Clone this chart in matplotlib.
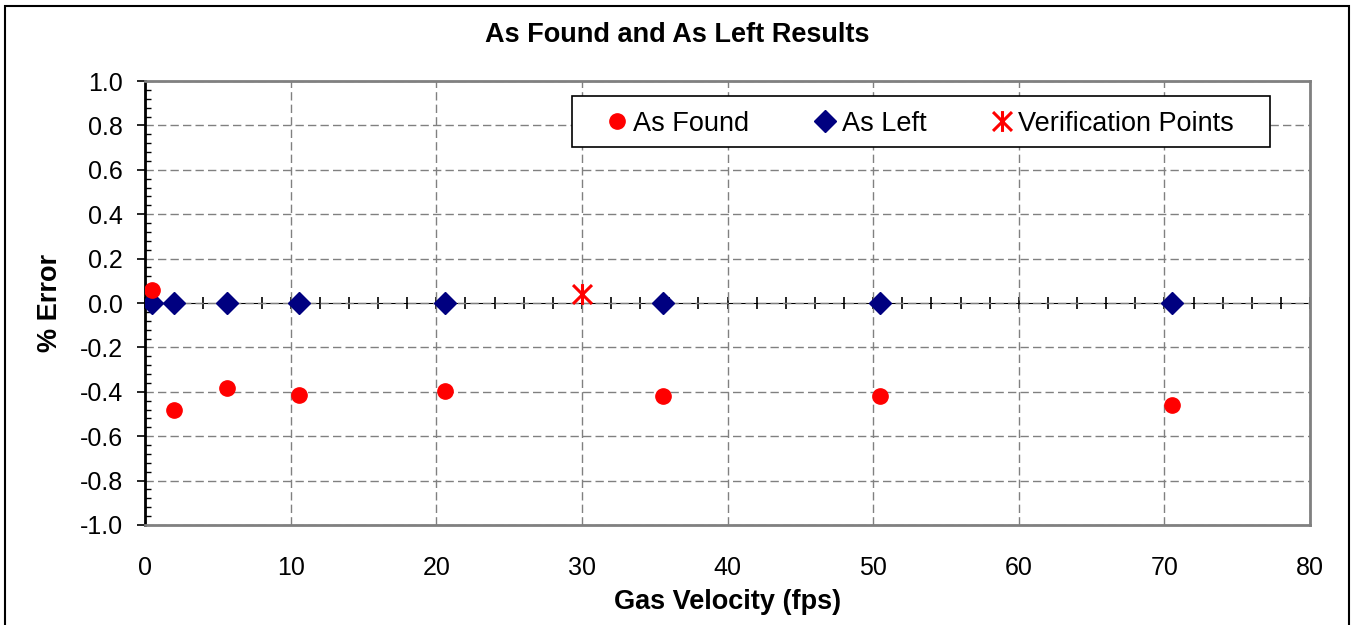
import numpy as np
import matplotlib
matplotlib.use('Agg')
import matplotlib.pyplot as plt
from matplotlib.path import Path
from matplotlib.patches import Rectangle

plt.rcParams['font.family'] = ['Liberation Sans', 'DejaVu Sans']

# Datos
found_x = [0.5, 2.0, 5.6, 10.6, 20.6, 35.6, 50.5, 70.5]
found_y = [0.06, -0.48, -0.385, -0.415, -0.395, -0.418, -0.418, -0.46]
left_x = [0.5, 2.0, 5.6, 10.6, 20.6, 35.6, 50.5, 70.5]
left_y = [0.0, 0.0, 0.0, 0.0, 0.0, 0.0, 0.0, 0.0]
verif_x = [30.0]
verif_y = [0.04]

x_ticks = [0, 10, 20, 30, 40, 50, 60, 70, 80]
y_ticks = [-1.0, -0.8, -0.6, -0.4, -0.2, 0.0, 0.2, 0.4, 0.6, 0.8, 1.0]
y_tick_labels = ['-1.0', '-0.8', '-0.6', '-0.4', '-0.2', '0.0', '0.2', '0.4', '0.6', '0.8', '1.0']

# Marcador tipo asterisco de Excel (X + linea vertical)
star = Path([(-1, -1), (1, 1), (-1, 1), (1, -1), (0, -1.1), (0, 1.1)],
            [Path.MOVETO, Path.LINETO, Path.MOVETO, Path.LINETO, Path.MOVETO, Path.LINETO])

fig = plt.figure(figsize=(13.54, 6.25), dpi=100)
ax = fig.add_axes([145/1354, 1 - 525/625, 1165/1354, 444/625])

ax.plot(found_x, found_y, 'o', color='#ff0000', markersize=11, linestyle='none', label='As Found', zorder=5)
ax.plot(left_x, left_y, 'D', color='#000080', markersize=11.5, linestyle='none', label='As Left', zorder=4)
ax.plot(verif_x, verif_y, marker=star, color='#ff0000', markersize=15, markeredgewidth=2.2,
        linestyle='none', label='Verification Points', zorder=6)

ax.set_xlim(0, 80)
ax.set_ylim(-1, 1)
ax.set_xticks(x_ticks)
ax.set_yticks(y_ticks)
ax.set_yticks(np.arange(-1, 1.01, 0.04), minor=True)
ax.set_yticklabels(y_tick_labels)

ax.grid(True, which='major', color='#808080', linestyle=(0, (6, 3)), linewidth=1)
ax.set_axisbelow(True)

for s in ['top', 'right', 'bottom']:
    ax.spines[s].set_color('#808080')
    ax.spines[s].set_linewidth(2)
ax.spines['left'].set_color('black')
ax.spines['left'].set_linewidth(2)

ax.tick_params(axis='x', which='both', length=0, pad=22, labelsize=18)
ax.tick_params(axis='y', which='major', direction='out', length=6, width=1.2, pad=10, labelsize=18)
ax.tick_params(axis='y', which='minor', direction='in', length=4, width=1)

# Eje horizontal en y=0 con marcas
sec = ax.secondary_xaxis(0.5)
sec.set_xticks(x_ticks)
sec.set_xticks(np.arange(0, 81, 2), minor=True)
sec.set_xticklabels([])
sec.tick_params(which='both', direction='inout', length=9, width=1.2,
                labelbottom=False, labeltop=False)
sec.spines['bottom'].set_color('black')
sec.spines['bottom'].set_linewidth(1.5)

fig.text(677/1354, 1 - 42/625, 'As Found and As Left Results', fontsize=19.5,
         fontweight='bold', ha='center', va='baseline')
ax.set_xlabel('Gas Velocity (fps)', fontsize=19.5, fontweight='bold', labelpad=7)
ax.set_ylabel('% Error', fontsize=19.5, fontweight='bold', labelpad=12)

# Leyenda sin marco + marco aparte
leg = ax.legend(loc='center left', bbox_to_anchor=(0.3948, 0.904), ncol=3, fontsize=19.5,
                frameon=False, borderpad=0, borderaxespad=0,
                handletextpad=0.15, columnspacing=2.35, handlelength=0.9)
ax.add_patch(Rectangle((0.3665, 0.851), 0.5992, 0.115, transform=ax.transAxes,
                       facecolor='white', edgecolor='black', linewidth=1.2, zorder=7))
leg.set_zorder(8)

fig.patches.append(Rectangle((5/1354, -0.01), 1344/1354, 1.01 - 6/625, transform=fig.transFigure,
                             fill=False, edgecolor='black', linewidth=1.5))

fig.savefig('out.png', dpi=100)
